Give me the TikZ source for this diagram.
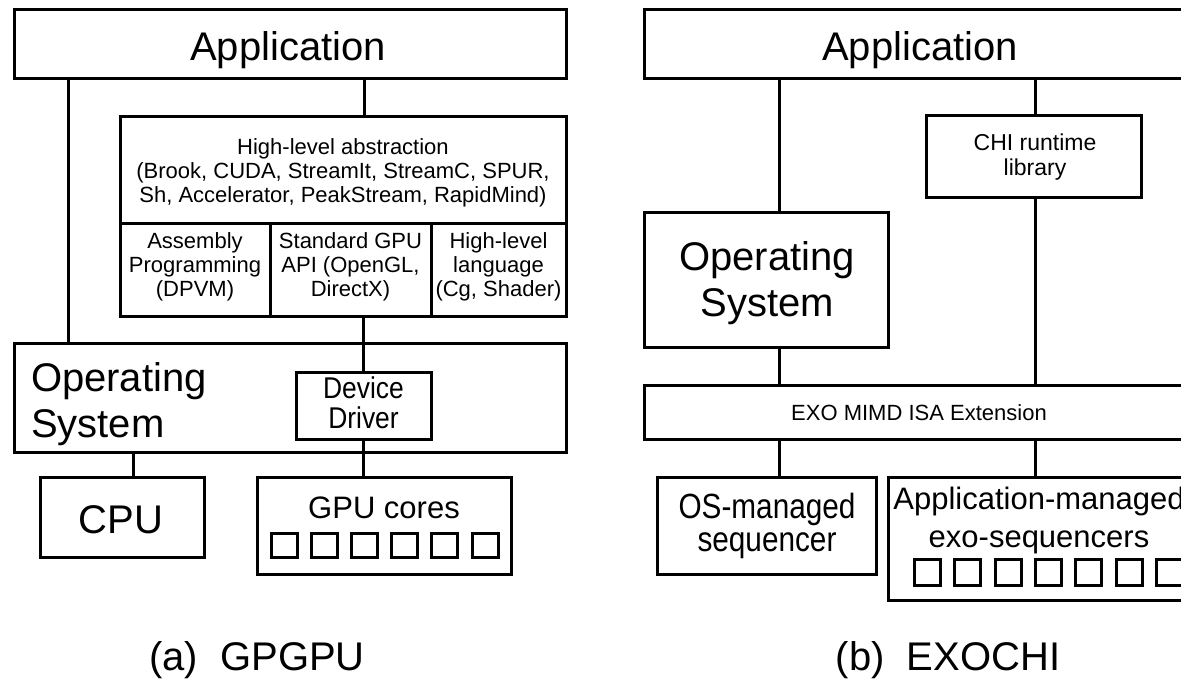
\documentclass[tikz,border=0pt]{standalone}
\usepackage{fontspec}
\setmainfont{Liberation Sans}
\newfontfamily\ddfont[FakeStretch=0.88]{Liberation Sans}
\newfontfamily\seqfont[FakeStretch=0.85]{Liberation Sans}
\newcommand\fsz[2]{\fontsize{#1}{#2}\selectfont}
\begin{document}
\begin{tikzpicture}[x=1pt,y=-1pt,
  box/.style={draw, line width=3pt, inner sep=0pt, outer sep=0pt},
  link/.style={draw, line width=3pt},
  txt/.style={inner sep=0pt, outer sep=0pt, align=center},
  lcore/.style={draw, line width=3pt, inner sep=0pt, outer sep=0pt,
                minimum width=26pt, minimum height=24pt},
  rcore/.style={draw, line width=3pt, inner sep=0pt, outer sep=0pt,
                minimum width=26pt, minimum height=26pt}]
\useasboundingbox (0,0) rectangle (1181,680);
\clip (0,0) rectangle (1181,680);
\fill[white] (0,0) rectangle (1181,680);

% ---------- (a) GPGPU stack ----------
\node[box, minimum width=552pt, minimum height=69pt] (appL) at (290,43.5) {};
\node[txt, anchor=base, font={\fsz{40}{47}}] (appLt) at (288,60) {Application};

\node[box, minimum width=446pt, minimum height=107pt] (hl) at (343,169.5) {};
\node[txt, font={\fsz{22}{24}}] (hlt) at (343,173)
  {High-level abstraction\\(Brook, CUDA, StreamIt, StreamC, SPUR,\\Sh, Accelerator, PeakStream, RapidMind)};

\node[box, minimum width=150pt, minimum height=93pt] (asm) at (195,269.5) {};
\node[txt, font={\fsz{22}{24}}] (asmt) at (195,267) {Assembly\\Programming\\(DPVM)};
\node[box, minimum width=161pt, minimum height=93pt] (api) at (350.5,269.5) {};
\node[txt, font={\fsz{22}{24}}] (apit) at (350.5,267) {Standard GPU\\API (OpenGL,\\DirectX)};
\node[box, minimum width=135pt, minimum height=93pt] (hll) at (498.5,269.5) {};
\node[txt, font={\fsz{22}{24}}] (hllt) at (498.5,267) {High-level\\language\\(Cg, Shader)};

\node[box, minimum width=552pt, minimum height=109pt] (osL) at (290,397.5) {};
\node[txt, align=left, anchor=west, font={\fsz{40}{46}}] (osLt) at (31,404) {Operating\\System};

\node[box, fill=white, minimum width=135pt, minimum height=67pt] (dd) at (363.5,405.5) {};
\node[txt, font={\ddfont\fsz{30}{30}}] (ddt) at (363.5,403) {Device\\Driver};

\node[box, minimum width=164pt, minimum height=80pt] (cpu) at (122,517) {};
\node[txt, anchor=base, font={\fsz{40}{46}}] (cput) at (121,533) {CPU};

\node[box, minimum width=254pt, minimum height=97pt] (gpu) at (384,525.5) {};
\node[txt, anchor=base, font={\fsz{31}{36}}] (gput) at (384,518) {GPU cores};
\foreach \i in {0,...,5}
  \node[lcore] (g\i) at (284+40.2*\i,545) {};

\coordinate (xa) at (68,0);
\coordinate (xb) at (364,0);
\coordinate (xc) at (133,0);
\draw[link] (appL.south -| xa) -- (osL.north -| xa);
\draw[link] (appL.south -| xb) -- (hl.north -| xb);
\draw[link] (api.south -| dd.north) -- (dd.north);
\draw[link] (dd.south) -- (gpu.north -| dd.south);
\draw[link] (osL.south -| xc) -- (cpu.north -| xc);

\node[txt, anchor=base, font={\fsz{40}{46}}] (capa) at (257,670) {(a)\ \ GPGPU};

% ---------- (b) EXOCHI stack ----------
\node[box, minimum width=552pt, minimum height=69pt] (appR) at (920,43.5) {};
\node[txt, anchor=base, font={\fsz{40}{47}}] (appRt) at (920,60) {Application};

\node[box, minimum width=215pt, minimum height=82pt] (chi) at (1033.5,156) {};
\node[txt, font={\fsz{23}{25}}] (chit) at (1035,157) {CHI runtime\\library};

\node[box, minimum width=244pt, minimum height=135pt] (osR) at (766,279.5) {};
\node[txt, font={\fsz{40}{46}}] (osRt) at (767,283) {Operating\\System};

\node[box, minimum width=550pt, minimum height=54pt] (exo) at (919,412) {};
\node[txt, anchor=base, font={\fsz{22}{24}}] (exot) at (919,420) {EXO MIMD ISA Extension};

\node[box, minimum width=219pt, minimum height=97pt] (osm) at (766.5,525.5) {};
\node[txt, font={\seqfont\fsz{35}{33}}] (osmt) at (767,526) {OS-managed\\sequencer};

\node[box, minimum width=302pt, minimum height=123pt] (appm) at (1039,538.5) {};
\node[txt, font={\fsz{31}{38}}] (appmt) at (1039,520) {Application-managed\\exo-sequencers};
\foreach \i in {0,...,6}
  \node[rcore] (e\i) at (927.5+40.3*\i,572) {};

\coordinate (xd) at (779,0);
\coordinate (xe) at (1035,0);
\draw[link] (appR.south -| xd) -- (osR.north -| xd);
\draw[link] (osR.south -| xd) -- (exo.north -| xd);
\draw[link] (exo.south -| xd) -- (osm.north -| xd);
\draw[link] (appR.south -| xe) -- (chi.north -| xe);
\draw[link] (chi.south -| xe) -- (exo.north -| xe);
\draw[link] (exo.south -| xe) -- (appm.north -| xe);

\node[txt, anchor=base, font={\fsz{40}{46}}] (capb) at (948,670) {(b)\ \ EXOCHI};
\end{tikzpicture}
\end{document}
